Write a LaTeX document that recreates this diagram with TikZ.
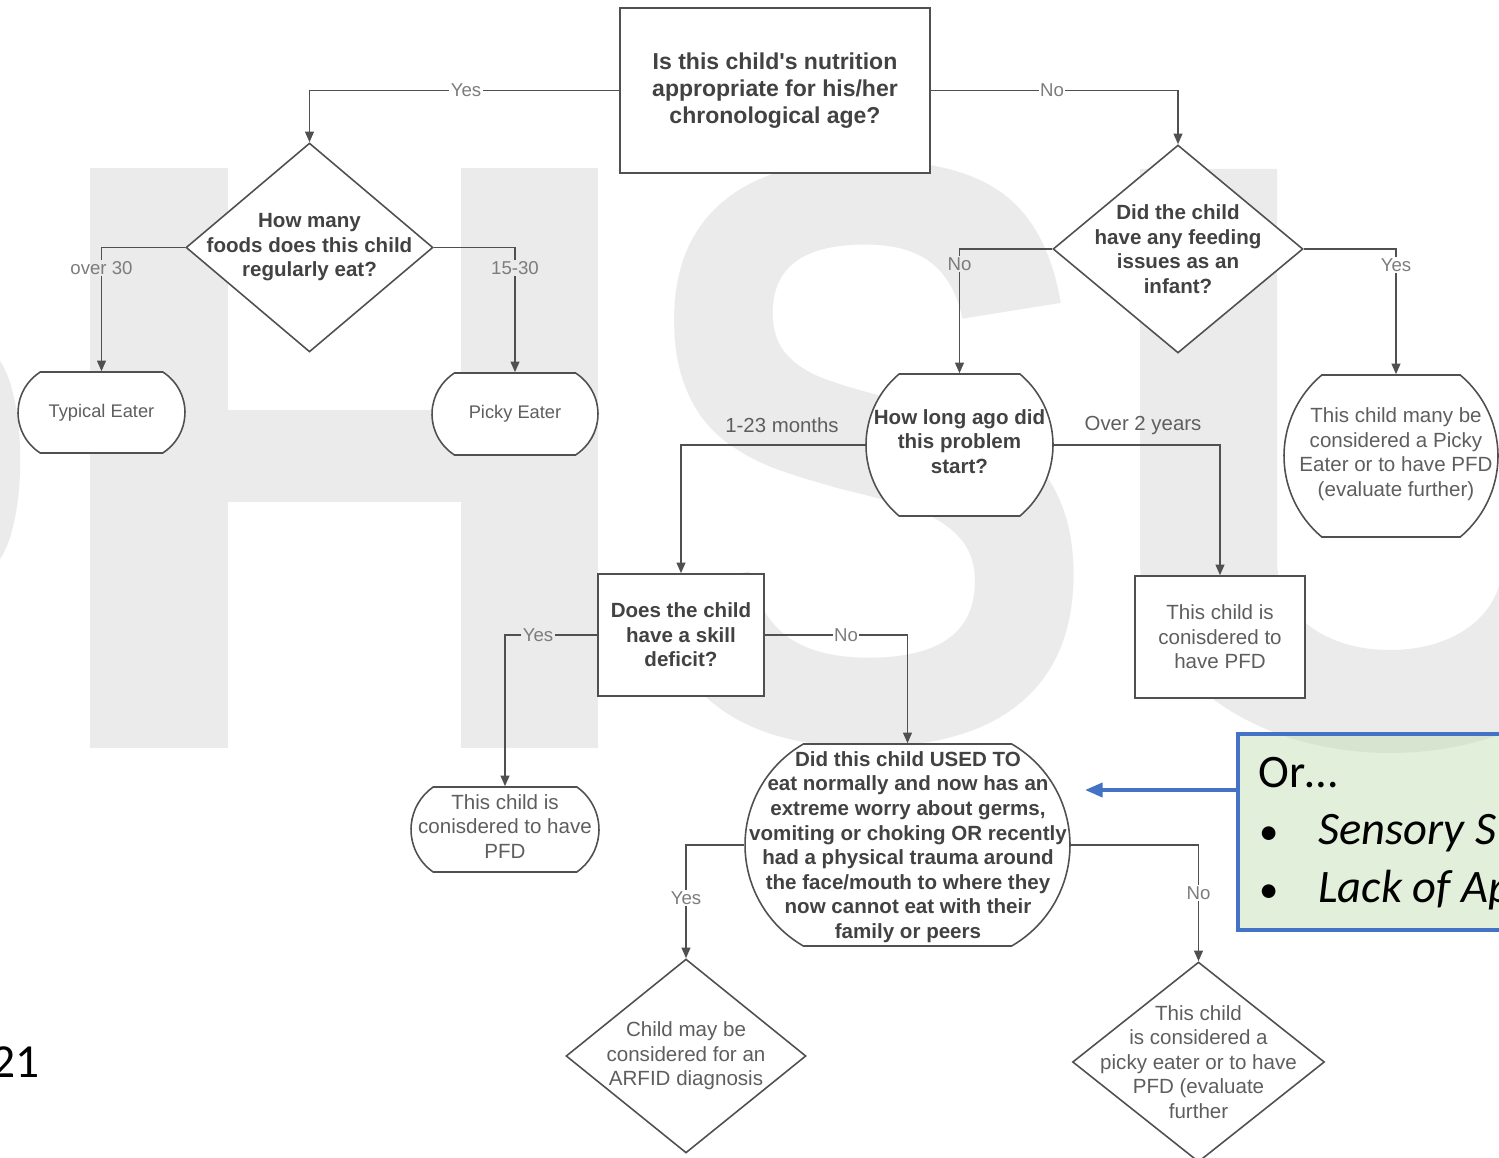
\documentclass[tikz,border=0pt]{standalone}
\usepackage{fontspec}
\setmainfont{Liberation Sans}
\newfontfamily\calibri{Carlito}
\usetikzlibrary{shapes.geometric,shapes.misc,arrows.meta}

\definecolor{linegrey}{HTML}{505050}
\definecolor{darktext}{HTML}{424242}
\definecolor{midtext}{HTML}{5E5E5E}
\definecolor{labgrey}{HTML}{7C7C7C}
\definecolor{wm}{HTML}{EBEBEB}
\definecolor{boxgreen}{HTML}{C5DFB5}
\definecolor{boxblue}{HTML}{4472C4}

\begin{document}
\begin{tikzpicture}[x=0.02cm, y=-0.02cm,
	line/.style={draw=linegrey, line width=0.9pt},
	arr/.style={line, -{Triangle[length=6pt,width=5pt]}},
	box/.style={draw=linegrey, line width=0.9pt, fill=white, inner sep=0pt, align=center},
	dia/.style={box, diamond, inner sep=-40pt},
	term/.style={box, rounded rectangle},
	txt/.style={inner sep=0pt, align=center},
	bq/.style={text=darktext, font=\fontsize{11.7}{14}\selectfont\bfseries},
	aq/.style={text=midtext, font=\fontsize{11.7}{14}\selectfont},
	lab/.style={text=labgrey, inner sep=0.6pt, font=\fontsize{10.6}{12}\selectfont},
	slide/.style={inner sep=0pt, anchor=base west, font=\calibri\fontsize{26.5}{32}\selectfont}]

	\useasboundingbox (0,0) rectangle (1499,1158);
	\clip (0,0) rectangle (1499,1158);

	% watermark letters behind the chart
	\fill[wm] (0,361) .. controls (27,400) and (27,520) .. (0,559) -- cycle;
	\fill[wm] (90,168) rectangle (228,748);
	\fill[wm] (461,168) rectangle (598,748);
	\fill[wm] (228,410) rectangle (461,502);
	\node[anchor=base, inner sep=0pt, text=wm, xscale=0.85, transform shape,
		font=\fontsize{472}{472}\selectfont\bfseries] (wmS) at (867,740) {S};
	\fill[wm] (1140,169) -- (1140,560) .. controls (1140,680) and (1260,753) .. (1390,753)
		.. controls (1520,753) and (1640,680) .. (1640,560) -- (1640,169) -- (1503,169)
		-- (1503,560) .. controls (1503,615) and (1455,650) .. (1390,650)
		.. controls (1325,650) and (1277,615) .. (1277,560) -- (1277,169) -- cycle;

	% first question
	\node[box, bq, font=\fontsize{13.1}{15.4}\selectfont\bfseries, minimum width=6.2cm, minimum height=3.3cm] (q1) at (775,90.5)
		{Is this child\textquotesingle s nutrition\\appropriate for his/her\\chronological age?};

	% left branch
	\node[dia, bq, minimum width=4.94cm, minimum height=4.18cm] (q2) at (309.5,247.5) {How many\\foods does this child\\regularly eat?};
	\node[term, aq, font=\fontsize{10.4}{12}\selectfont, rounded rectangle arc length=115, minimum width=3.34cm, minimum height=1.62cm] (typ) at (101.5,412.5) {Typical Eater};
	\node[term, aq, font=\fontsize{10.4}{12}\selectfont, rounded rectangle arc length=115, minimum width=3.32cm, minimum height=1.64cm] (pick) at (515,414) {Picky Eater};

	% right branch
	\node[dia, bq, minimum width=5cm, minimum height=4.16cm] (q3) at (1178,249) {Did the child\\have any feeding\\issues as an\\infant?};
	\node[term, rounded rectangle arc length=100, minimum width=3.74cm, minimum height=2.84cm] (q4) at (959.5,445) {};
	\node[txt, bq] (q4t) at (959.5,441.5) {How long ago did\\this problem\\start?};
	\node[term, rounded rectangle arc length=100, minimum width=4.28cm, minimum height=3.24cm] (pe2) at (1391,456) {};
	\node[txt, aq] (pe2t) at (1396,454) {This child many be\\considered a Picky\\Eater or to have PFD\\(evaluate further)};

	% middle row
	\node[box, bq, minimum width=3.32cm, minimum height=2.44cm] (q5) at (681,635) {Does the child\\have a skill\\deficit?};
	\node[box, aq, minimum width=3.4cm, minimum height=2.44cm] (pfd2) at (1220,637) {This child is\\conisdered to\\have PFD};
	\node[term, rounded rectangle arc length=110, minimum width=3.76cm, minimum height=1.7cm] (pfd1) at (505,829.5) {};
	\node[txt, aq] (pfd1t) at (505,826.5) {This child is\\conisdered to have\\PFD};

	% last question
	\node[term, rounded rectangle arc length=120, minimum width=6.5cm, minimum height=4.04cm] (q6) at (907.5,845) {};
	\node[txt, bq] (q6t) at (908,847) {Did this child USED TO\\eat normally and now has an\\extreme worry about germs,\\vomiting or choking OR recently\\had a physical trauma around\\the face/mouth to where they\\now cannot eat with their\\family or peers};
	\node[dia, aq, minimum width=4.8cm, minimum height=3.88cm] (arfid) at (686,1056) {Child may be\\considered for an\\ARFID diagnosis};
	\node[dia, aq, minimum width=5.04cm, minimum height=4cm] (pe3) at (1198.5,1062) {This child\\is considered a\\picky eater or to have\\PFD (evaluate\\further};

	% branch labels
	\foreach \n/\x/\y/\t in {lyesA/466/90.5/Yes, lnoA/1052/90.5/No, lover/101.5/268/over 30,
		lfift/515/268/15-30, lnoB/959.5/264/No, lyesB/1396/265/Yes, lyesC/538/635/Yes,
		lnoC/846/635/No, lyesD/686/898/Yes, lnoD/1198.5/893/No}
		\node[lab] (\n) at (\x,\y) {\t};
	\node[lab, text=midtext, font=\fontsize{11.6}{13}\selectfont] (lmonths) at (782,425) {1-23 months};
	\node[lab, text=midtext, font=\fontsize{11.6}{13}\selectfont] (lyears) at (1143,426) {Over 2 years};

	% connectors
	\draw[line] (q1.west) -- (lyesA.east);
	\draw[arr] (lyesA.west) -| (q2.north);
	\draw[line] (q1.east) -- (lnoA.west);
	\draw[arr] (lnoA.east) -| (q3.north);
	\draw[line] (q2.west) -| (lover.north);
	\draw[arr] (lover.south) -- (typ.north);
	\draw[line] (q2.east) -| (lfift.north);
	\draw[arr] (lfift.south) -- (pick.north);
	\draw[line] (q3.west) -| (lnoB.north);
	\draw[arr] (lnoB.south) -- (q4.north);
	\draw[line] (q3.east) -| (lyesB.north);
	\draw[arr] (lyesB.south) -- (lyesB.south |- pe2.north);
	\draw[arr] (q4.west) -| (q5.north);
	\draw[arr] (q4.east) -| (pfd2.north);
	\draw[line] (q5.west) -- (lyesC.east);
	\draw[arr] (lyesC.west) -| (pfd1.north);
	\draw[line] (q5.east) -- (lnoC.west);
	\draw[arr] (lnoC.east) -| (q6.north);
	\draw[line] (q6.west) -| (lyesD.north);
	\draw[arr] (lyesD.south) -- (arfid.north);
	\draw[line] (q6.east) -| (lnoD.north);
	\draw[arr] (lnoD.south) -- (pe3.north);

	% slide overlay
	\node[draw=boxblue, line width=2.2pt, fill=boxgreen, fill opacity=0.5, anchor=north west,
		minimum width=6.5cm, minimum height=3.92cm] (orbox) at (1236,732) {};
	\node[slide] (orl) at (1258,788) {Or…};
	\node[slide, font=\calibri\fontsize{22}{32}\selectfont] (b1) at (1259,845) {•};
	\node[slide, font=\calibri\itshape\fontsize{26.5}{32}\selectfont] (t1) at (1318,845) {Sensory S};
	\node[slide, font=\calibri\fontsize{22}{32}\selectfont] (b2) at (1259,903) {•};
	\node[slide, font=\calibri\itshape\fontsize{26.5}{32}\selectfont] (t2) at (1318,903) {Lack of Ap};
	\coordinate (tip) at (1085,790);
	\draw[boxblue, line width=2pt, -{Triangle[length=10pt,width=8pt]}] (orbox.west |- tip) -- (tip);

	\node[inner sep=0pt, anchor=base east, font=\calibri\fontsize{27}{30}\selectfont] (pgnum) at (40,1077) {21};

\end{tikzpicture}
\end{document}
